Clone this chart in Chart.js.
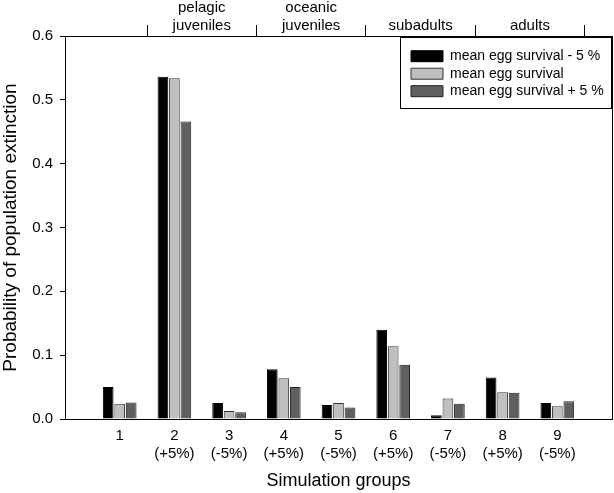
<!DOCTYPE html>
<html>
<head>
<meta charset="utf-8">
<script src="https://cdn.jsdelivr.net/npm/chart.js@4.4.1/dist/chart.umd.min.js"></script>
<style>
  html, body { margin: 0; padding: 0; background: #fff; }
</style>
</head>
<body>
<canvas id="graficoExtincion" width="614" height="493"></canvas>
<script>
// grupos de simulacion (los extremos vacios dan el margen del eje)
const grupos = ['', '1', ['2', '(+5%)'], ['3', '(-5%)'], ['4', '(+5%)'], ['5', '(-5%)'],
  ['6', '(+5%)'], ['7', '(-5%)'], ['8', '(+5%)'], ['9', '(-5%)'], ''];
const menos5 = [null, 0.050, 0.536, 0.025, 0.078, 0.022, 0.140, 0.006, 0.065, 0.025, null];
const media  = [null, 0.024, 0.534, 0.0125, 0.064, 0.025, 0.114, 0.032, 0.042, 0.020, null];
const mas5   = [null, 0.026, 0.466, 0.0105, 0.050, 0.018, 0.085, 0.024, 0.041, 0.028, null];
const yTicks = [0, 0.1, 0.2, 0.3, 0.4, 0.5, 0.6];

// etapas de vida en el eje superior
const etapas = [['pelagic', 'juveniles'], ['oceanic', 'juveniles'], 'subadults', 'adults'];
const centrosEtapa = [2.5, 4.5, 6.5, 8.5];
const limitesEtapa = [1.5, 3.5, 5.5, 7.5, 9.5];

const FUENTE = "'Liberation Sans', Arial, sans-serif";
Chart.defaults.color = '#000';
Chart.defaults.font.family = FUENTE;

const marcoLeyenda = {
  id: 'marcoLeyenda',
  afterLayout(chart) {
    const lg = chart.legend;
    const area = chart.chartArea;
    lg.left = area.right - 204.5;
    lg.top = area.top + 9.7;
    lg.right = area.right;
    lg.bottom = area.bottom;
  },
  afterDraw(chart) {
    const ctx = chart.ctx;
    const area = chart.chartArea;
    ctx.save();
    ctx.strokeStyle = '#000';
    ctx.lineWidth = 1;
    ctx.strokeRect(area.right - 211.5, area.top + 1.5, 211, 71);
    ctx.restore();
  }
};

const ctx = document.getElementById('graficoExtincion').getContext('2d');
new Chart(ctx, {
  type: 'bar',
  data: {
    labels: grupos,
    datasets: [
      { label: 'mean egg survival - 5 %', data: menos5, backgroundColor: '#000000', borderColor: '#000000', borderWidth: 1 },
      { label: 'mean egg survival', data: media, backgroundColor: '#bfbfbf', borderColor: '#333333', borderWidth: 1 },
      { label: 'mean egg survival + 5 %', data: mas5, backgroundColor: '#606060', borderColor: '#222222', borderWidth: 1 }
    ]
  },
  options: {
    responsive: false,
    animation: false,
    devicePixelRatio: 1,
    layout: { padding: 0 },
    datasets: {
      bar: { categoryPercentage: 0.63, barPercentage: 0.93 }
    },
    plugins: {
      tooltip: { enabled: false },
      legend: {
        position: 'chartArea',
        align: 'start',
        labels: {
          boxWidth: 32,
          boxHeight: 11,
          padding: 3.5,
          font: { size: 14, family: FUENTE },
          color: '#000'
        }
      }
    },
    scales: {
      x: {
        position: 'bottom',
        offset: false,
        grid: { offset: false, drawOnChartArea: false, drawTicks: true, tickLength: 8, tickColor: 'rgba(0,0,0,0)' },
        border: { display: true, color: '#000', width: 1 },
        ticks: { autoSkip: false, maxRotation: 0, padding: 0, font: { size: 15 } },
        title: {
          display: true,
          text: 'Simulation groups',
          font: { size: 18 },
          padding: { top: 0, bottom: 1 }
        },
        afterFit(scale) { scale.height = 74; }
      },
      arriba: {
        type: 'linear',
        position: 'top',
        offset: false,
        min: 0,
        max: 10,
        afterBuildTicks(scale) {
          scale.ticks = limitesEtapa.concat(centrosEtapa).sort((a, b) => a - b).map(v => ({ value: v }));
        },
        ticks: {
          autoSkip: false,
          maxRotation: 0,
          padding: -10,
          font: { size: 15 },
          callback(value) {
            const i = centrosEtapa.indexOf(value);
            return i >= 0 ? etapas[i] : '';
          }
        },
        grid: {
          offset: false,
          drawOnChartArea: false,
          tickLength: 11,
          tickColor: c => (c.tick && limitesEtapa.includes(c.tick.value)) ? '#000' : 'rgba(0,0,0,0)'
        },
        border: { display: true, color: '#000', width: 1 },
        afterFit(scale) { scale.height = 36; }
      },
      y: {
        position: 'left',
        min: 0,
        max: 0.6,
        afterBuildTicks(scale) { scale.ticks = yTicks.map(v => ({ value: v })); },
        ticks: {
          padding: 7,
          font: { size: 15 },
          callback: v => v.toFixed(1)
        },
        grid: { drawOnChartArea: false, tickLength: 5, tickColor: '#000' },
        border: { display: true, color: '#000', width: 1 },
        title: {
          display: true,
          text: 'Probability of population extinction',
          font: { size: 19, lineHeight: 1.1 },
          padding: 0
        },
        afterFit(scale) { scale.width = 65; }
      },
      derecha: {
        type: 'linear',
        position: 'right',
        min: 0,
        max: 0.6,
        ticks: { display: false, padding: 0 },
        grid: { drawOnChartArea: false, drawTicks: false },
        border: { display: true, color: '#000', width: 1 },
        afterFit(scale) { scale.width = 2; }
      }
    }
  },
  plugins: [marcoLeyenda]
});
</script>
</body>
</html>
